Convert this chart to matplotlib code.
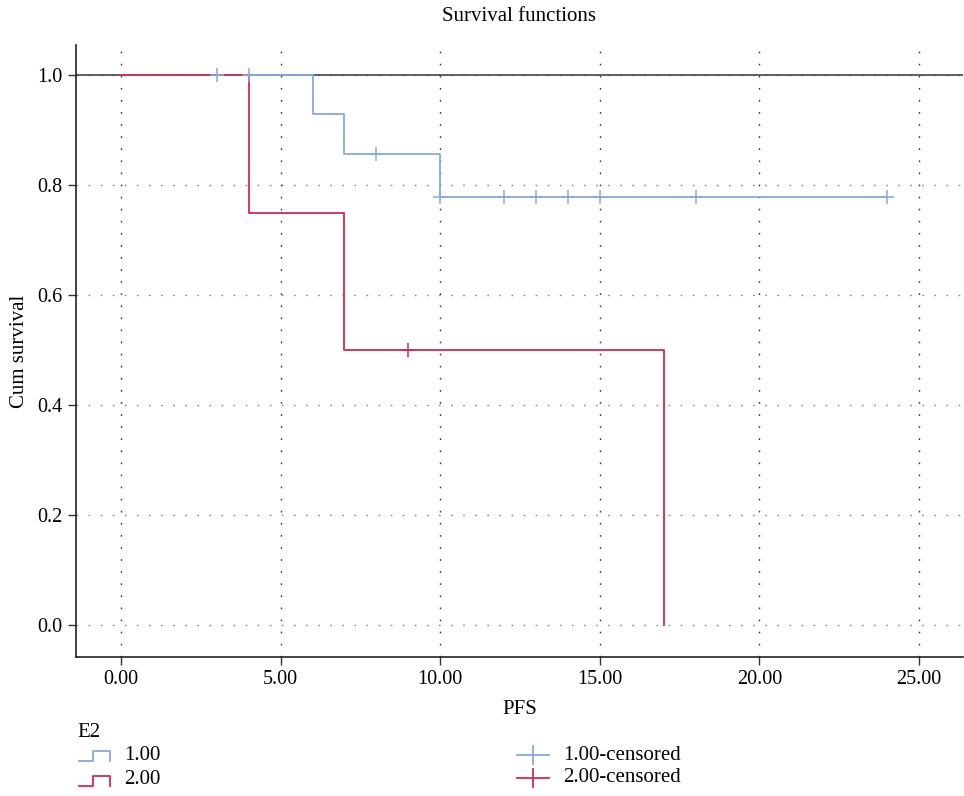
import matplotlib
matplotlib.use("Agg")
import matplotlib.pyplot as plt
from matplotlib.lines import Line2D

# Kaplan-Meier step values
g1_time = [0, 6, 7, 10, 24]
g1_surv = [1.0, 0.929, 0.857, 0.779, 0.779]
g1_cens_t = [3, 4, 8, 10, 12, 13, 14, 15, 18, 24]
g1_cens_s = [1.0, 1.0, 0.857, 0.779, 0.779, 0.779, 0.779, 0.779, 0.779, 0.779]

g2_time = [0, 4, 7, 17]
g2_surv = [1.0, 0.75, 0.5, 0.0]
g2_cens_t = [9]
g2_cens_s = [0.5]

x_ticks = [0, 5, 10, 15, 20, 25]
y_ticks = [0.0, 0.2, 0.4, 0.6, 0.8, 1.0]

BLUE = "#85aae0"
RED = "#d8264f"

plt.rcParams["font.family"] = ["Liberation Serif", "DejaVu Serif"]
plt.rcParams["font.size"] = 15

fig = plt.figure(figsize=(9.64, 7.96), dpi=100)
ax = fig.add_axes([76 / 964, 139 / 796, 887 / 964, 612 / 796])

ax.set_xlim(-1.41, 26.38)
ax.set_ylim(-0.058, 1.0545)

for x in x_ticks:
    ax.axvline(x, color="#333333", lw=1.0, ls=(0, (1.2, 7.5)), zorder=0)
for y in y_ticks:
    ax.axhline(y, color="#888888", lw=1.0, ls=(0, (1.2, 7.5)), zorder=0)

ax.axhline(1.0, color="#444444", lw=1.2, zorder=1)

ax.step(g1_time, g1_surv, where="post", color=BLUE, lw=1.3, zorder=2)
ax.step(g2_time, g2_surv, where="post", color=RED, lw=1.3, zorder=3)
ax.plot(g1_cens_t, g1_cens_s, ls="none", marker="+", ms=10, mew=1.1, color=BLUE, zorder=4)
ax.plot(g2_cens_t, g2_cens_s, ls="none", marker="+", ms=10, mew=1.1, color=RED, zorder=4)

ax.set_xticks(x_ticks)
ax.set_xticklabels(["%.2f" % v for v in x_ticks])
ax.set_yticks(y_ticks)
ax.set_yticklabels(["%.1f" % v for v in y_ticks])
ax.tick_params(direction="out", length=5.5, width=1.0, color="#333333", labelsize=14.5, pad=4)

for side in ["top", "right"]:
    ax.spines[side].set_visible(False)
for side in ["left", "bottom"]:
    ax.spines[side].set_linewidth(1.2)
    ax.spines[side].set_color("#222222")

ax.set_title("Survival functions", fontsize=15, pad=17)
ax.set_xlabel("PFS", fontsize=15, labelpad=8)
ax.set_ylabel("Cum survival", fontsize=15, labelpad=6)

# legend drawn by hand in figure pixels
def fx(px):
    return px / 964

def fy(py):
    return 1 - py / 796

fig.text(fx(77), fy(737), "E2", fontsize=15, va="baseline", ha="left")
for py, col, lab in [(755, BLUE, "1.00"), (780, RED, "2.00")]:
    xs = [fx(79), fx(93), fx(93), fx(110), fx(110)]
    ys = [fy(py + 6), fy(py + 6), fy(py - 4), fy(py - 4), fy(py + 6)]
    fig.add_artist(Line2D(xs, ys, color=col, lw=1.3))
    fig.text(fx(124), fy(py), lab, fontsize=15, va="center", ha="left")
for py, col, lab in [(755, BLUE, "1.00-censored"), (778, RED, "2.00-censored")]:
    fig.add_artist(Line2D([fx(517), fx(549)], [fy(py), fy(py)], color=col, lw=1.3))
    fig.add_artist(Line2D([fx(533), fx(533)], [fy(py - 9), fy(py + 9)], color=col, lw=1.3))
    fig.text(fx(563), fy(py), lab, fontsize=15, va="center", ha="left")

fig.savefig("out.png", dpi=100)
